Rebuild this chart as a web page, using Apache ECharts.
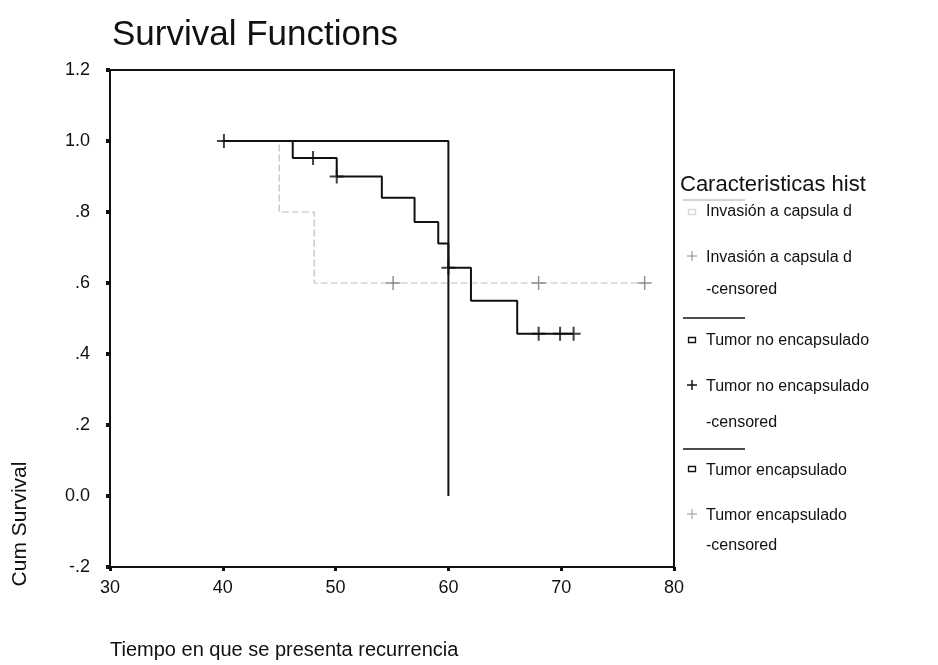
<!DOCTYPE html>
<html>
<head>
<meta charset="utf-8">
<script src="https://cdn.jsdelivr.net/npm/echarts@6/dist/echarts.min.js"></script>
<style>html,body{margin:0;padding:0;background:#fff}#c{width:938px;height:665px}</style>
</head>
<body>
<div id="c"></div>
<script>
// Axis ticks
const xTicks = [30, 40, 50, 60, 70, 80];
const yTickLabels = {"-0.2": "-.2", "0": "0.0", "0.2": ".2", "0.4": ".4", "0.6": ".6", "0.8": ".8", "1": "1.0", "1.2": "1.2"};

// Invasión a capsula d
const invTimes = [40, 45.0, 48.1, 77.4];
const invSurv = [1.0, 0.8, 0.6, 0.6];
const invCensTimes = [55.1, 68.0, 77.4];
const invCensSurv = [0.6, 0.6, 0.6];

// Tumor no encapsulado
const noTimes = [40, 46.2, 50.1, 54.1, 57.0, 59.1, 60.0, 62.0, 66.1, 71.1];
const noSurv = [1.0, 0.952, 0.9, 0.84, 0.772, 0.711, 0.643, 0.55, 0.457, 0.457];
const noCensTimes = [40.1, 48.0, 50.1, 60.0, 68.0, 69.9, 71.1];
const noCensSurv = [1.0, 0.952, 0.9, 0.643, 0.457, 0.457, 0.457];

// Tumor encapsulado
const encTimes = [40, 60.0];
const encSurv = [1.0, 0.0];

const zip = (a, b) => a.map((v, i) => [v, b[i]]);
const FONT = 'Liberation Sans, Arial, sans-serif';

const chart = echarts.init(document.getElementById('c'), null, {renderer: 'canvas'});
const legendX = 683;
const G = [];
function txt(x, y, s, size, color, extra) {
  G.push(Object.assign({type: 'text', x: x, y: y, style: {text: s, font: size + 'px ' + FONT, fill: color || '#111', verticalAlign: 'middle', align: 'left'}}, extra || {}));
}
function seg(y, color) {
  G.push({type: 'line', shape: {x1: legendX, y1: y, x2: legendX + 62, y2: y}, style: {stroke: color, lineWidth: 1.5}});
}
function plus(x, y, color, w) {
  G.push({type: 'line', shape: {x1: x - 5, y1: y, x2: x + 5, y2: y}, style: {stroke: color, lineWidth: w}});
  G.push({type: 'line', shape: {x1: x, y1: y - 5, x2: x, y2: y + 5}, style: {stroke: color, lineWidth: w}});
}
function box(x, y, color) {
  G.push({type: 'rect', shape: {x: x - 3.5, y: y - 2.5, width: 7, height: 5}, style: {stroke: color, fill: 'none', lineWidth: 1.3}});
}
// axis titles
txt(110, 650, 'Tiempo en que se presenta recurrencia', 20);
G.push({type: 'text', x: 20, y: 524, rotation: Math.PI / 2,
  style: {text: 'Cum Survival', font: '21px ' + FONT, fill: '#111', align: 'center', verticalAlign: 'middle'}});
// legend
txt(680, 185, 'Caracteristicas hist', 22);
seg(200, '#c4c4c4');
box(692, 212, '#d8d8d8');
txt(706, 212, 'Invasión a capsula d', 16);
plus(692, 256, '#888', 1);
txt(706, 258, 'Invasión a capsula d', 16);
txt(706, 290, '-censored', 16);
seg(318, '#111');
box(692, 340, '#111');
txt(706, 341, 'Tumor no encapsulado', 16);
plus(692, 385, '#111', 1.5);
txt(706, 387, 'Tumor no encapsulado', 16);
txt(706, 423, '-censored', 16);
seg(449, '#111');
box(692, 469, '#111');
txt(706, 471, 'Tumor encapsulado', 16);
plus(692, 514, '#999', 1);
txt(706, 516, 'Tumor encapsulado', 16);
txt(706, 546, '-censored', 16);

const option = {
  backgroundColor: '#fff',
  animation: false,
  title: {text: 'Survival Functions', left: 107, top: 13, textStyle: {fontFamily: FONT, fontSize: 35, fontWeight: 'normal', color: '#111'}},
  grid: {left: 110, right: 264, top: 70, bottom: 98, show: true, borderColor: '#111', borderWidth: 2,
    backgroundColor: 'transparent', containLabel: false, outerBoundsMode: 'none'},
  xAxis: {
    type: 'value', min: 30, max: 80, interval: 10,
    axisLine: {onZero: false, lineStyle: {color: '#111', width: 2}},
    axisTick: {show: true, inside: false, length: 4, lineStyle: {color: '#111', width: 3}},
    axisLabel: {fontFamily: FONT, fontSize: 18, color: '#111', margin: 12},
    splitLine: {show: false}
  },
  yAxis: {
    type: 'value', min: -0.2, max: 1.2, interval: 0.2,
    axisLine: {onZero: false, lineStyle: {color: '#111', width: 2}},
    axisTick: {show: true, inside: false, length: 4, lineStyle: {color: '#111', width: 4}},
    axisLabel: {fontFamily: FONT, fontSize: 18, color: '#111', margin: 20,
      formatter: v => yTickLabels[String(Math.round(v * 10) / 10)] || ''},
    splitLine: {show: false}
  },
  graphic: G,
  series: [
    {name: 'Invasión a capsula d', type: 'line', step: 'end', data: zip(invTimes, invSurv), showSymbol: false,
     lineStyle: {color: '#bdbdbd', width: 1.2, type: [7, 3]}, z: 1},
    {name: 'Invasión a capsula d -censored', type: 'scatter', data: zip(invCensTimes, invCensSurv),
     symbol: 'path://M0,5H10M5,0V10', symbolSize: [14, 14], itemStyle: {color: 'none', borderColor: '#777', borderWidth: 1.5}, z: 2},
    {name: 'Tumor encapsulado', type: 'line', step: 'end', data: zip(encTimes, encSurv), showSymbol: false,
     lineStyle: {color: '#111', width: 2}, z: 3},
    {name: 'Tumor no encapsulado', type: 'line', step: 'end', data: zip(noTimes, noSurv), showSymbol: false,
     lineStyle: {color: '#111', width: 2}, z: 4},
    {name: 'Tumor no encapsulado -censored', type: 'scatter', data: zip(noCensTimes, noCensSurv),
     symbol: 'path://M0,5H10M5,0V10', symbolSize: [14, 14], itemStyle: {color: 'none', borderColor: '#111', borderWidth: 2}, z: 5}
  ]
};
chart.setOption(option);
</script>
</body>
</html>
